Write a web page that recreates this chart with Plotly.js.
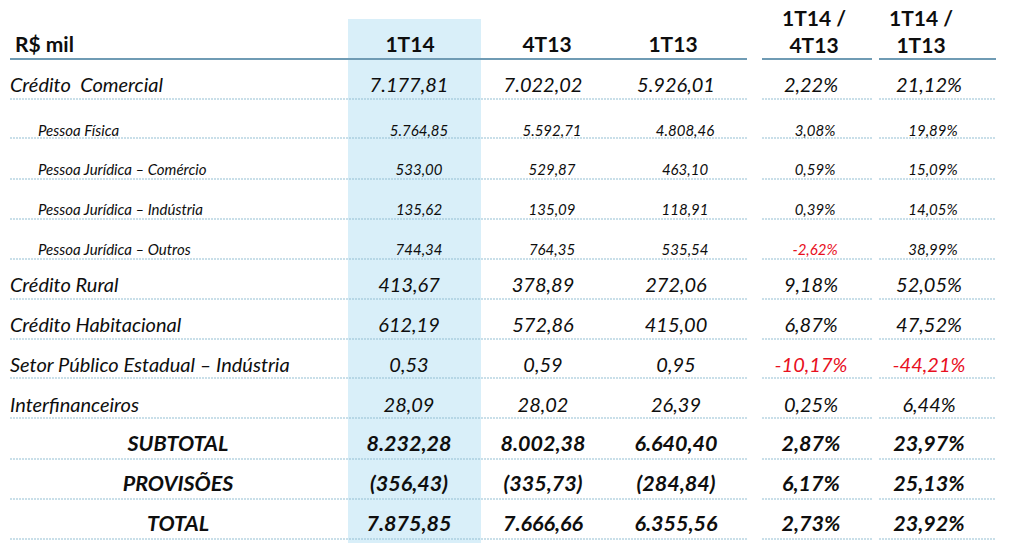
<!DOCTYPE html>
<html>
<head>
<meta charset="utf-8">
<script src="https://cdn.plot.ly/plotly-3.0.1.min.js"></script>
<style>
  html, body { margin: 0; padding: 0; background: #fff; }
  #chart { width: 1013px; height: 559px; }
</style>
</head>
<body>
<div id="chart"></div>
<script>
// table content
const headers = ['R$ mil', '1T14', '4T13', '1T13', '1T14 /<br>4T13', '1T14 /<br>1T13'];
const labels = [
    'Crédito  Comercial',
    'Pessoa Física',
    'Pessoa Jurídica – Comércio',
    'Pessoa Jurídica – Indústria',
    'Pessoa Jurídica – Outros',
    'Crédito Rural',
    'Crédito Habitacional',
    'Setor Público Estadual – Indústria',
    'Interfinanceiros',
    'SUBTOTAL',
    'PROVISÕES',
    'TOTAL'
];
const rowKind = ['main', 'sub', 'sub', 'sub', 'sub', 'main', 'main', 'main', 'main', 'total', 'total', 'total'];
const val1T14 = [7177.81, 5764.85, 533.00, 135.62, 744.34, 413.67, 612.19, 0.53, 28.09, 8232.28, -356.43, 7875.85];
const val4T13 = [7022.02, 5592.71, 529.87, 135.09, 764.35, 378.89, 572.86, 0.59, 28.02, 8002.38, -335.73, 7666.66];
const val1T13 = [5926.01, 4808.46, 463.10, 118.91, 535.54, 272.06, 415.00, 0.95, 26.39, 6640.40, -284.84, 6355.56];
const var4T13 = [2.22, 3.08, 0.59, 0.39, -2.62, 9.18, 6.87, -10.17, 0.25, 2.87, 6.17, 2.73];
const var1T13 = [21.12, 19.89, 15.09, 14.05, 38.99, 52.05, 47.52, -44.21, 6.44, 23.97, 25.13, 23.92];

// layout geometry (pixel-like axis units)
const rowY = [87, 132, 171, 211, 251, 287, 327, 367, 407, 446, 486, 526];
const lineY = [99, 138, 179, 219, 259, 299, 339, 378, 418, 459, 499, 539];
const colX = {main: [409, 543, 676, 811, 929], sub: [419, 552, 685, 815, 933], total: [409, 543, 676, 811, 929]};
const sizes = {main: 20, sub: 15, total: 21.5};
const segments = [[10, 747], [762, 872], [879, 996]];
const FONT = 'Lato, "Open Sans", sans-serif';
const INK = '#0e0e0e';
const RED = '#e8101e';

const fmtNum = (v) => {
    const abs = Math.abs(v).toFixed(2).split('.');
    const intPart = abs[0].replace(/\B(?=(\d{3})+(?!\d))/g, '.');
    const s = intPart + ',' + abs[1];
    return v < 0 ? '(' + s + ')' : s;
};
const fmtPct = (v) => v.toFixed(2).replace('.', ',') + '%';
const wrap = (s, kind) => kind === 'total' ? '<b><i>' + s + '</i></b>' : '<i>' + s + '</i>';

const traces = [];

// header
traces.push({
    x: [15, 410, 547, 673, 814, 921],
    y: [47, 47, 47, 47, 34, 34],
    text: headers.map(h => '<b>' + h + '</b>'),
    mode: 'text',
    textposition: ['middle right', 'middle center', 'middle center', 'middle center', 'middle center', 'middle center'],
    textfont: {family: FONT, size: 21, color: INK},
    hoverinfo: 'skip'
});

// row labels
traces.push({
    x: rowKind.map(k => k === 'main' ? 10 : k === 'sub' ? 38 : 178),
    y: rowY,
    text: labels.map((l, i) => wrap(l, rowKind[i])),
    mode: 'text',
    textposition: rowKind.map(k => k === 'total' ? 'middle center' : 'middle right'),
    textfont: {family: FONT, size: rowKind.map(k => sizes[k]), color: INK},
    hoverinfo: 'skip'
});

// value columns
const columns = [
    {values: val1T14, fmt: fmtNum},
    {values: val4T13, fmt: fmtNum},
    {values: val1T13, fmt: fmtNum},
    {values: var4T13, fmt: fmtPct},
    {values: var1T13, fmt: fmtPct}
];
columns.forEach((col, c) => {
    traces.push({
        x: rowKind.map(k => colX[k][c]),
        y: rowY,
        text: col.values.map((v, i) => wrap(col.fmt(v), rowKind[i])),
        mode: 'text',
        textposition: 'middle center',
        textfont: {
            family: FONT,
            size: rowKind.map(k => sizes[k]),
            color: col.values.map(v => (col.fmt === fmtPct && v < 0) ? RED : INK)
        },
        hoverinfo: 'skip'
    });
});

const shapes = [];
shapes.push({type: 'rect', xref: 'x', yref: 'y', x0: 348, x1: 481, y0: 19, y1: 543,
    fillcolor: '#d9eff9', line: {width: 0}, layer: 'below'});
segments.forEach(([a, b]) => {
    shapes.push({type: 'line', xref: 'x', yref: 'y', x0: a, x1: b, y0: 59, y1: 59,
        line: {color: '#6f9bb4', width: 2}, layer: 'below'});
    lineY.forEach(y => {
        shapes.push({type: 'line', xref: 'x', yref: 'y', x0: a, x1: b, y0: y, y1: y,
            line: {color: '#93bfd3', width: 1, dash: '2px,1px'}, layer: 'below'});
    });
});

const layout = {
    width: 1013,
    height: 559,
    margin: {l: 0, r: 0, t: 0, b: 0},
    paper_bgcolor: '#ffffff',
    plot_bgcolor: '#ffffff',
    showlegend: false,
    xaxis: {range: [0, 1013], visible: false, fixedrange: true},
    yaxis: {range: [559, 0], visible: false, fixedrange: true},
    shapes: shapes
};

Plotly.newPlot('chart', traces, layout, {displayModeBar: false, staticPlot: true});
</script>
</body>
</html>
